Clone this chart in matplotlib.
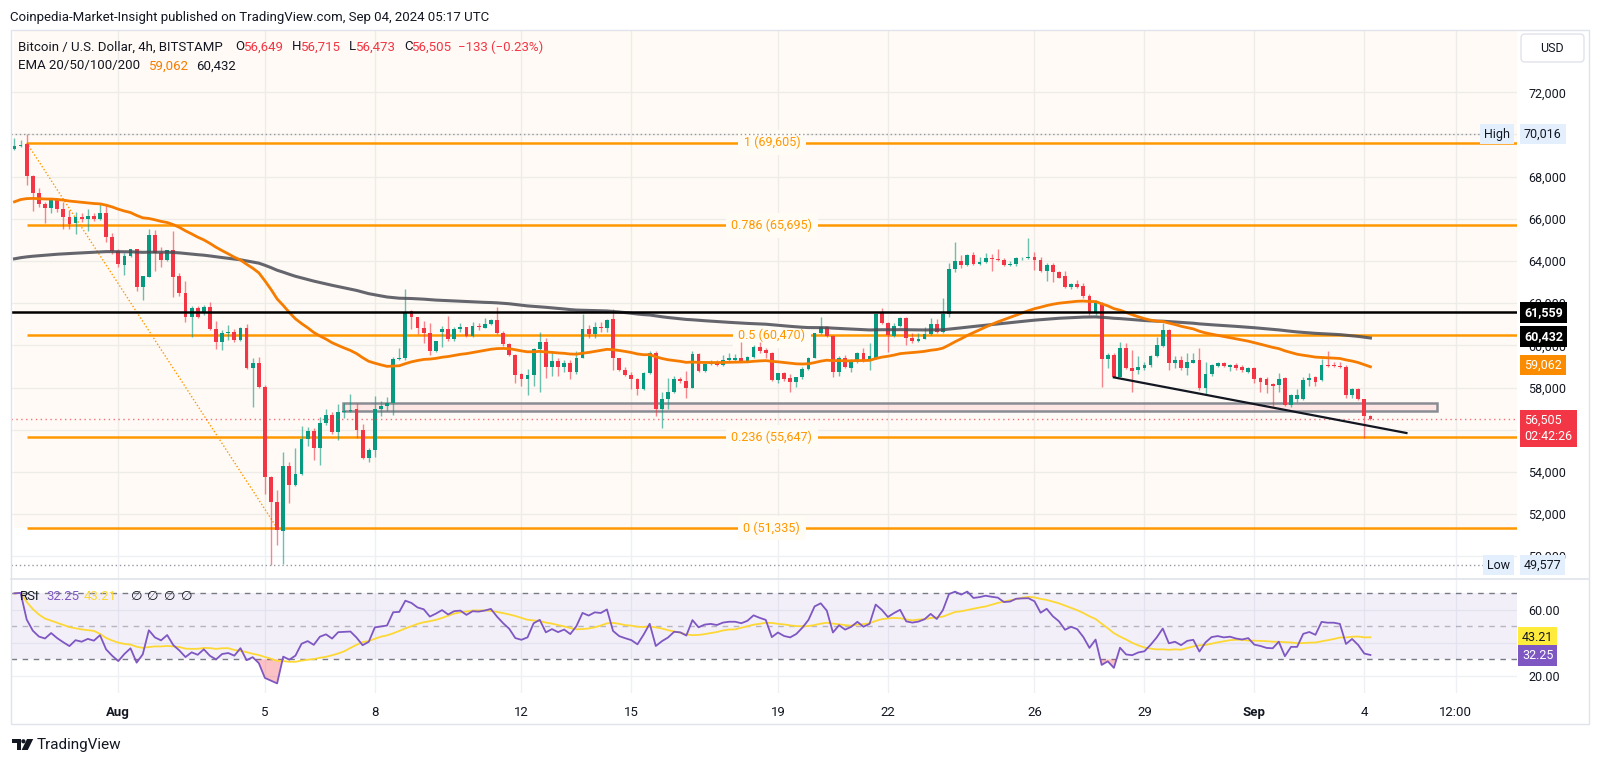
import numpy as np
import pandas as pd
import matplotlib
matplotlib.use("Agg")
import matplotlib.pyplot as plt
import matplotlib.transforms as mtransforms
from matplotlib.patches import Rectangle, FancyBboxPatch, Polygon, Circle
from matplotlib.lines import Line2D

W, H = 1600, 764
plt.rcParams['font.family'] = ['Roboto', 'DejaVu Sans']

# BTC/USD 4h candles, Jul 29 04:00 -> Sep 4 04:00
opens = [
    69295, 69453, 69548, 68046, 67208, 66702, 66528, 66892, 66465, 66102,
    65817, 66102, 65975, 66133, 66000, 66291, 65153, 64489, 63809, 64236,
    64552, 62781, 63224, 65232, 64400, 64046, 64520, 63288, 62465, 61358,
    61754, 61516, 61801, 60773, 60141, 60568, 60640, 60252, 60805, 58908,
    59145, 58038, 53770, 52584, 51211, 54278, 53377, 53899, 55559, 55954,
    55148, 56333, 56697, 55906, 56839, 56887, 56966, 55986, 54642, 55037,
    56981, 57124, 57250, 59336, 59400, 61629, 61328, 60806, 60601, 59731,
    60617, 60759, 60285, 60775, 60854, 60443, 60933, 60838, 61012, 61202,
    60601, 60048, 59542, 58625, 58404, 58593, 59811, 60143, 58957, 59257,
    58957, 59178, 58752, 59415, 60759, 60538, 60886, 60839, 61249, 59384,
    58831, 58594, 58388, 57930, 58673, 59622, 56965, 57439, 57803, 58388,
    58325, 57961, 59590, 58799, 59099, 59226, 59068, 59305, 59305, 59384,
    59273, 59463, 59906, 59780, 59653, 58357, 58673, 58435, 58277, 58483,
    58878, 59415, 60569, 60885, 60458, 58751, 59383, 58909, 59225, 59651,
    59272, 59383, 61517, 61074, 60442, 60916, 61280, 60331, 60221, 60284,
    60521, 61011, 60648, 61485, 63604, 64015, 63810, 64284, 63857, 63968,
    64157, 64094, 64047, 63810, 63857, 64126, 64126, 64173, 64047, 63541,
    63810, 63493, 63288, 62750, 62909, 62814, 62339, 61598, 61993, 59337,
    59543, 58515, 59859, 58910, 58831, 58910, 59068, 59495, 59970, 60728,
    59179, 59305, 58910, 59179, 59305, 57961, 58641, 59036, 59147, 58989,
    59068, 58989, 58752, 58910, 58435, 58388, 58151, 58119, 58435, 57171,
    57440, 57440, 58356, 58483, 58356, 59068, 59068, 59020, 58989, 57645,
    57914, 57440, 56649]
highs = [
    69817, 69740, 70016, 68100, 67445, 66813, 66924, 66971, 66813, 66418,
    66339, 66291, 66465, 66260, 66765, 66702, 65311, 64552, 64394, 64583,
    64583, 63303, 65501, 65469, 64678, 64520, 65422, 63446, 63066, 61864,
    61864, 61911, 62038, 61153, 60726, 60963, 60757, 60884, 60995, 59382,
    59461, 58117, 53800, 53137, 54958, 54484, 55116, 56175, 56143, 56064,
    56586, 56966, 56855, 57219, 57282, 57693, 57250, 56270, 55116, 57598,
    57377, 57567, 59463, 59858, 62656, 61676, 61360, 61154, 61044, 60206,
    60917, 61391, 60886, 61044, 60886, 61123, 61075, 61312, 61234, 61834,
    60696, 60127, 59589, 58704, 58862, 59858, 60648, 60332, 59748, 59384,
    59305, 59305, 59732, 61487, 60965, 61091, 61091, 61234, 61724, 59416,
    58989, 58752, 58435, 58720, 59732, 59748, 57803, 58435, 58546, 58514,
    58799, 59748, 59653, 59147, 59305, 59305, 59542, 59653, 59590, 60174,
    59510, 60016, 60174, 59858, 59700, 58704, 58752, 58641, 58515, 58957,
    59463, 60600, 61359, 60917, 60490, 59493, 59541, 59335, 59699, 59857,
    60126, 61520, 61754, 61122, 61058, 61327, 61327, 60569, 60569, 60885,
    61280, 61232, 62229, 63889, 64916, 64284, 64316, 64442, 64173, 64395,
    64316, 64553, 64126, 64015, 64205, 64205, 65074, 64442, 64205, 63889,
    63889, 63541, 63541, 62940, 63098, 62940, 62450, 62151, 62072, 59621,
    59621, 60175, 60127, 59780, 59495, 59226, 59543, 60412, 61076, 60760,
    59495, 59495, 59653, 59621, 59859, 59226, 59116, 59226, 59226, 59116,
    59147, 59068, 58989, 58989, 58515, 58515, 58198, 58673, 58515, 57693,
    57914, 58515, 58704, 58546, 59337, 59748, 59226, 59226, 59068, 57961,
    57961, 57480, 56715]
lows = [
    69263, 69390, 67603, 66386, 66544, 65817, 66291, 66338, 65517, 65517,
    65264, 65864, 65438, 65912, 65944, 64916, 64331, 63698, 63335, 64204,
    62592, 62149, 63224, 63540, 63730, 63990, 62307, 62355, 61121, 60378,
    61279, 61437, 60726, 59825, 59777, 60252, 60173, 60220, 58860, 57090,
    57959, 52960, 49577, 50529, 49650, 52507, 53330, 53867, 55227, 54563,
    54326, 56223, 55796, 55511, 56539, 56855, 55590, 54594, 54484, 54689,
    56650, 56903, 56696, 59305, 59305, 60759, 60538, 60127, 59542, 59700,
    59937, 60222, 60222, 60648, 60411, 60411, 60727, 60807, 60965, 60538,
    59985, 59495, 58230, 58071, 57645, 58071, 57803, 58435, 58546, 58546,
    58752, 58388, 58641, 59384, 60364, 60364, 60649, 60649, 58831, 58783,
    58546, 57928, 57645, 57882, 58641, 56649, 56064, 56965, 57755, 58198,
    57486, 57961, 58752, 58752, 59068, 59020, 59020, 59226, 59226, 59226,
    59226, 59416, 59621, 59384, 58325, 58198, 58325, 57803, 58040, 58404,
    58831, 59384, 60537, 60410, 58482, 58545, 58909, 58751, 59177, 59209,
    58830, 59335, 61011, 59699, 60410, 60885, 60015, 60126, 60173, 60284,
    60490, 60600, 60600, 61359, 63493, 63651, 63778, 63810, 63810, 63889,
    63541, 64015, 63778, 63762, 63778, 64047, 64094, 63572, 63493, 63066,
    63019, 63177, 62735, 62671, 62735, 62229, 61440, 61440, 58040, 58910,
    58483, 58483, 58863, 57803, 58641, 58831, 58989, 59464, 59938, 58831,
    58910, 58831, 58594, 59147, 57882, 57693, 58546, 58989, 58989, 58799,
    58831, 58752, 58704, 58230, 57804, 57756, 57124, 57803, 57124, 57060,
    57330, 57408, 58072, 58072, 58325, 58989, 58989, 58910, 57487, 57487,
    57408, 55600, 56473]
closes = [
    69453, 69500, 68046, 67208, 66702, 66528, 66892, 66465, 66102, 65754,
    66102, 65975, 66133, 66000, 66291, 65153, 64489, 63856, 64236, 64552,
    62781, 63303, 65232, 64400, 64046, 64520, 63256, 62465, 61358, 61754,
    61358, 61801, 60773, 60141, 60568, 60640, 60252, 60805, 58908, 59145,
    58038, 53770, 52584, 51240, 54278, 53377, 53899, 55559, 55954, 55148,
    56333, 56697, 55906, 56839, 56887, 56934, 55986, 54642, 55037, 56981,
    57124, 57250, 59336, 59400, 61597, 61328, 60806, 60601, 59747, 60206,
    60759, 60285, 60775, 60854, 60443, 60917, 60886, 61012, 61202, 60601,
    60048, 59542, 58593, 58404, 58593, 59811, 60143, 58957, 59257, 58957,
    59178, 58752, 59415, 60759, 60538, 60886, 60839, 61202, 59384, 58831,
    58594, 58388, 57930, 58673, 59653, 56965, 57439, 57803, 58388, 58325,
    57961, 59590, 58799, 59099, 59178, 59068, 59305, 59384, 59384, 59273,
    59463, 59906, 59748, 59621, 58357, 58673, 58388, 58277, 58483, 58878,
    59415, 60569, 60885, 60442, 58751, 59383, 58988, 59225, 59651, 59257,
    59493, 61485, 61074, 60490, 60916, 61280, 60331, 60221, 60315, 60521,
    61011, 60648, 61485, 63604, 64015, 63810, 64284, 63857, 63968, 64157,
    64094, 64047, 63810, 63857, 64126, 64157, 64173, 64047, 63541, 63810,
    63462, 63209, 62750, 62909, 62782, 62339, 61598, 61993, 59337, 59543,
    58515, 59859, 58910, 58799, 58989, 59068, 59495, 60017, 60728, 59179,
    59305, 58910, 59226, 59305, 57961, 58641, 59068, 59147, 59020, 59068,
    58910, 58831, 58910, 58388, 58277, 58119, 58088, 58388, 57171, 57645,
    57645, 58356, 58467, 58277, 59068, 59020, 59020, 58957, 57645, 57914,
    57440, 56649, 56505]

# indicator starting states (values just before the first visible candle)
EMA50_SEED = 66700
EMA200_SEED = 64050
RSI_SEED_GAIN, RSI_SEED_LOSS = 280, 120

# fibonacci retracement drawn on the chart
fib_levels = [1, 0.786, 0.5, 0.236, 0]
fib_prices = [69605, 65695, 60470, 55647, 51335]

# time axis labels (candle index -> label)
tick_idx = [17, 41, 59, 83, 101, 125, 143, 167, 185, 203, 221, 236]
tick_lbl = ['Aug', '5', '8', '12', '15', '19', '22', '26', '29', 'Sep', '4', '12:00']
price_ticks = list(range(50000, 72001, 2000))
hidden_ticks = [56000, 70000]   # covered by the last-price / high tags

resistance = 61559
zone_low, zone_high = 56887, 57282
trend_x, trend_y = [180, 227.9], [58483, 55844]
high_val, low_val, last_val = 70016, 49577, 56505
ema50_last, ema200_last = 59062, 60432
rsi_last, rsi_ma_last = 32.25, 43.21

o = np.array(opens, float)
h = np.array(highs, float)
l = np.array(lows, float)
c = np.array(closes, float)
x = np.arange(len(c))


def ema(vals, seed, n):
    a = 2 / (n + 1)
    e = seed
    out = []
    for v in vals:
        e = e + a * (v - e)
        out.append(e)
    return np.array(out)


ema50 = ema(c, EMA50_SEED, 50)
ema200 = ema(c, EMA200_SEED, 200)

ag, al = RSI_SEED_GAIN, RSI_SEED_LOSS
rsi = [100 - 100 / (1 + ag / al)]
for d in np.diff(c):
    ag = (ag * 13 + max(d, 0)) / 14
    al = (al * 13 + max(-d, 0)) / 14
    rsi.append(100 - 100 / (1 + ag / al))
rsi = np.array(rsi)
rsi_ma = pd.Series(rsi).rolling(14, min_periods=1).mean().values

GREEN, RED = '#089981', '#F23645'
ORANGE, FIB = '#F57C00', '#FF9800'
TXT = '#131722'
GRID = '#EEF0F3'
XMIN, XMAX = -0.57, 246.0

fig = plt.figure(figsize=(16, 7.64), dpi=100)
ax = fig.add_axes([11 / W, 1 - 579.3 / H, 1506 / W, 549.3 / H])
rax = fig.add_axes([11 / W, 1 - 693.3 / H, 1506 / W, 114 / H], sharex=ax)

# ---- main pane ----
ax.set_xlim(XMIN, XMAX)
ax.set_ylim(48907, 74954)
ax.set_axisbelow(True)
ax.grid(True, color=GRID, lw=1)
for s in ax.spines.values():
    s.set_visible(False)
ax.set_xticks(tick_idx)
ax.tick_params(axis='x', length=0, labelbottom=False)
ax.yaxis.tick_right()
ax.set_yticks(price_ticks)
ax.set_yticklabels(['' if v in hidden_ticks else f'{v:,}' for v in price_ticks])
ax.tick_params(axis='y', length=0, pad=8, labelsize=9, labelcolor=TXT)

# fib background and levels
ax.fill_between([0, XMAX], fib_prices[-1], 74954, color=FIB, alpha=0.04, lw=0, zorder=0.6)
for lv, p in zip(fib_levels, fib_prices):
    ax.hlines(p, 2, XMAX, color=FIB, lw=1.8, zorder=2)
    ax.text(124, p, f'{lv:g} ({p:,})', color=FIB, fontsize=9, ha='center', va='center',
            bbox=dict(boxstyle='square,pad=0.45', fc='#FFFBF5', ec='none'), zorder=2.2)
ax.plot([2, 43], [fib_prices[0], fib_prices[-1]], color=FIB, lw=1, ls=(0, (1, 1.5)), zorder=2)

# support zone
ax.add_patch(Rectangle((53.8, zone_low), 232.9 - 53.8, zone_high - zone_low,
                       fc=(0.95, 0.21, 0.27, 0.1), ec='#8A8C94', lw=1.8, zorder=2.8))

# candles
col = np.where(c >= o, GREEN, RED)
ax.vlines(x, l, h, colors=col, lw=1, alpha=0.6, zorder=3)
ax.bar(x, np.maximum(np.abs(c - o), 40), bottom=np.minimum(o, c), width=0.62,
       color=col, lw=0, zorder=4)

# EMAs
ax.plot(x, ema200, color='#4A4C55', lw=2.2, alpha=0.85, zorder=5)
ax.plot(x, ema50, color=ORANGE, lw=2, zorder=5)

# lines
ax.axhline(resistance, color='black', lw=1.8, zorder=6)
ax.plot(trend_x, trend_y, color=TXT, lw=1.6, zorder=6)
ax.axhline(last_val, color=RED, lw=1, ls=(0, (1, 2.5)), alpha=0.7, zorder=5.5)
ax.hlines(high_val, XMIN, 240.1, color='#9598A1', lw=1, ls=(0, (1, 2)), zorder=5)
ax.hlines(low_val, XMIN, 240.6, color='#9598A1', lw=1, ls=(0, (1, 2)), zorder=5)

# price tags
ptr = mtransforms.blended_transform_factory(fig.transFigure, ax.transData)


def tag(y, txt, fc, tc, bold=False, xpos=1524, ha='left', pad=0.3):
    ax.text(xpos / W, y, txt, transform=ptr, ha=ha, va='center', fontsize=9, color=tc,
            fontweight='bold' if bold else 'normal', zorder=10,
            bbox=dict(boxstyle=f'square,pad={pad}', fc=fc, ec='none'))


tag(high_val, f'{high_val:,}', '#E3EFFD', TXT)
tag(high_val, 'High', '#E3EFFD', TXT, xpos=1510, ha='right')
tag(low_val, f'{low_val:,}', '#E3EFFD', TXT)
tag(low_val, 'Low', '#E3EFFD', TXT, xpos=1510, ha='right')
tag(resistance, f'{resistance:,}', 'black', 'white', bold=True)
tag(ema200_last, f'{ema200_last:,}', 'black', 'white', bold=True)
tag(ema50_last, f'{ema50_last:,}', '#FB8C00', 'white')
ax.text(1524 / W, last_val, f'{last_val:,}\n02:42:26',
        transform=mtransforms.offset_copy(ptr, fig=fig, y=5, units='dots'),
        ha='left', va='top', fontsize=9, color='white', zorder=10, linespacing=1.25,
        bbox=dict(boxstyle='square,pad=0.35', fc=RED, ec='none'))

# ---- RSI pane ----
rax.set_ylim(9.4, 78.5)
rax.set_axisbelow(True)
rax.grid(True, color=GRID, lw=1)
for s in rax.spines.values():
    s.set_visible(False)
rax.yaxis.tick_right()
rax.set_yticks([20, 40, 60])
rax.set_yticklabels(['20.00', '', '60.00'])
rax.tick_params(axis='y', length=0, pad=8, labelsize=9, labelcolor=TXT)
rax.set_xticks(tick_idx)
rax.set_xticklabels(tick_lbl)
rax.tick_params(axis='x', length=0, pad=9, labelsize=9.5, labelcolor=TXT)
for t in rax.get_xticklabels():
    if t.get_text() in ('Aug', 'Sep'):
        t.set_fontweight('bold')

rax.axhspan(30, 70, color='#7E57C2', alpha=0.09, lw=0, zorder=0.7)
rax.axhline(70, color='#787B86', lw=1, ls=(0, (4, 4)), zorder=1)
rax.axhline(50, color='#787B86', lw=1, ls=(0, (4, 4)), alpha=0.5, zorder=1)
rax.axhline(30, color='#787B86', lw=1, ls=(0, (4, 4)), zorder=1)
rax.fill_between(x, rsi, 30, where=rsi < 30, interpolate=True, color=RED, alpha=0.3, lw=0)
rax.fill_between(x, rsi, 70, where=rsi > 70, interpolate=True, color=GREEN, alpha=0.3, lw=0)
rax.plot(x, rsi_ma, color='#FDD835', lw=1.3, zorder=3)
rax.plot(x, rsi, color='#7E57C2', lw=1.3, zorder=4)

rtr = mtransforms.blended_transform_factory(fig.transFigure, rax.transData)
rax.text(1522 / W, rsi_ma_last, f'{rsi_ma_last:.2f}', transform=rtr, ha='left', va='center', fontsize=9,
         color=TXT, zorder=10, bbox=dict(boxstyle='square,pad=0.3', fc='#FFEB3B', ec='none'))
rax.text(1522 / W, rsi_last, f'{rsi_last:.2f}', transform=rtr, ha='left', va='center', fontsize=9,
         color='white', zorder=10, bbox=dict(boxstyle='square,pad=0.3', fc='#7E57C2', ec='none'))

# ---- frame, headers ----
idt = mtransforms.IdentityTransform()
fig.add_artist(Rectangle((10.5, H - 724), 1578, 694.5, fill=False, ec='#E0E3EB', lw=1, transform=idt))
fig.add_artist(Line2D([11, 1588], [H - 579.3, H - 579.3], color='#E0E3EB', lw=1.2, transform=idt))
fig.add_artist(FancyBboxPatch((1521, H - 62), 63, 28, boxstyle='round,pad=0,rounding_size=4',
                              fc='white', ec='#E0E3EB', lw=1, transform=idt))
fig.text(1552 / W, 1 - 48 / H, 'USD', ha='center', va='center', fontsize=9, color=TXT)

fig.text(10 / W, 1 - 17 / H, 'Coinpedia-Market-Insight published on TradingView.com, Sep 04, 2024 05:17 UTC',
         fontsize=9.5, color=TXT, va='center')

y1 = 1 - 47 / H
fig.text(18.5 / W, y1, 'Bitcoin / U.S. Dollar, 4h, BITSTAMP', fontsize=9.5, color=TXT, va='center')
for xp, s, cl in [(235, 'O', TXT), (244, '56,649', RED), (292, 'H', TXT), (301, '56,715', RED),
                  (349, 'L', TXT), (356, '56,473', RED), (404, 'C', TXT), (412, '56,505', RED),
                  (458, '\u2212133 (\u22120.23%)', RED)]:
    fig.text(xp / W, y1, s, fontsize=9.5, color=cl, va='center')
y2 = 1 - 66 / H
fig.text(18.5 / W, y2, 'EMA 20/50/100/200', fontsize=9.5, color=TXT, va='center')
fig.text(149 / W, y2, '59,062', fontsize=9.5, color=ORANGE, va='center')
fig.text(196 / W, y2, '60,432', fontsize=9.5, color=TXT, va='center')

y3 = 1 - 597 / H
fig.text(20 / W, y3, 'RSI', fontsize=9.5, color=TXT, va='center')
fig.text(46 / W, y3, '32.25', fontsize=9.5, color='#7E57C2', va='center')
fig.text(84 / W, y3, '43.21', fontsize=9.5, color='#FDD835', va='center')
for xp in [131, 147.5, 164, 180.5]:
    fig.text(xp / W, y3, '\u2205', fontsize=9.5, color=TXT, va='center', family='DejaVu Sans')

# TradingView logo
fig.add_artist(Polygon([(11.7, H - 739), (20.5, H - 739), (20.5, H - 750), (16.5, H - 750),
                        (16.5, H - 743), (11.7, H - 743)], closed=True, fc=TXT, ec='none', transform=idt))
fig.add_artist(Circle((23.4, H - 741.3), 2.1, fc=TXT, ec='none', transform=idt))
fig.add_artist(Polygon([(27.0, H - 739), (33.2, H - 739), (27.8, H - 750), (21.6, H - 750)],
                       closed=True, fc=TXT, ec='none', transform=idt))
fig.text(37 / W, 1 - 745 / H, 'TradingView', fontsize=11, color=TXT, va='center')

fig.savefig('out.png', dpi=100, facecolor='white')
